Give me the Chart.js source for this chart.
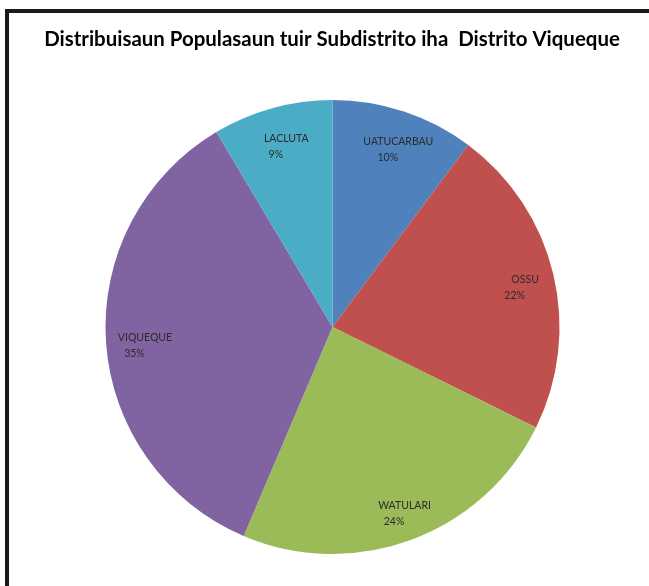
<!DOCTYPE html>
<html>
<head>
<meta charset="utf-8">
<script src="https://cdn.jsdelivr.net/npm/chart.js@4/dist/chart.umd.min.js"></script>
<style>
  html, body { margin: 0; padding: 0; background: #fff; }
  #wrap { position: relative; width: 649px; height: 586px; overflow: hidden; }
  #frame { position: absolute; left: 5px; top: 9px; width: 700px; height: 700px;
           border-left: 4px solid #1a1a1a; border-top: 4px solid #1a1a1a; box-sizing: border-box; }
  canvas { position: absolute; left: 0; top: 0; }
</style>
</head>
<body>
<div id="wrap">
  <div id="frame"></div>
  <canvas id="c" width="649" height="586"></canvas>
</div>
<script>
const titleText = 'Distribuisaun Populasaun tuir Subdistrito iha  Distrito Viqueque';
const categories = ['UATUCARBAU', 'OSSU', 'WATULARI', 'VIQUEQUE', 'LACLUTA'];
const shares = [10.2, 22.1, 24.1, 35.05, 8.55];
const colors = ['#4F81BD', '#C0504D', '#9BBB59', '#8064A2', '#4BACC6'];

const titlePlugin = {
  id: 'wideTitle',
  afterDraw(chart) {
    const ctx = chart.ctx;
    ctx.save();
    const fam = 'Lato, "Liberation Sans", sans-serif';
    ctx.font = 'bold 20px ' + fam;
    const w = ctx.measureText(titleText).width;
    const size = 20 * 576 / w;
    ctx.font = 'bold ' + size.toFixed(2) + 'px ' + fam;
    ctx.fillStyle = '#000';
    ctx.textAlign = 'center';
    ctx.textBaseline = 'alphabetic';
    ctx.fillText(titleText, 332, 45.5);
    ctx.restore();
  }
};

const labelPlugin = {
  id: 'sliceLabels',
  afterDatasetsDraw(chart) {
    const ctx = chart.ctx;
    const meta = chart.getDatasetMeta(0);
    const data = chart.data.datasets[0].data;
    const total = data.reduce((a, b) => a + b, 0);
    ctx.save();
    ctx.font = '10.5px Lato, "Liberation Sans", sans-serif';
    ctx.fillStyle = '#2b2b2b';
    ctx.textAlign = 'center';
    ctx.textBaseline = 'middle';
    meta.data.forEach((arc, i) => {
      const p = arc.getProps(['x', 'y', 'startAngle', 'endAngle', 'outerRadius'], true);
      const mid = (p.startAngle + p.endAngle) / 2;
      const rr = p.outerRadius * 0.85;
      const x = p.x + Math.cos(mid) * rr;
      const y = p.y + Math.sin(mid) * rr;
      ctx.fillText(chart.data.labels[i], x + 5, y - 2);
      ctx.fillText(Math.round(data[i] / total * 100) + '%', x - 5.5, y + 13.5);
    });
    ctx.restore();
  }
};

new Chart(document.getElementById('c'), {
  type: 'pie',
  data: {
    labels: categories,
    datasets: [{
      data: shares,
      backgroundColor: colors,
      borderWidth: 0
    }]
  },
  options: {
    responsive: false,
    animation: false,
    layout: { padding: { left: 105.5, right: 89.5, top: 100, bottom: 32 } },
    plugins: {
      legend: { display: false },
      tooltip: { enabled: false },
      title: { display: false }
    }
  },
  plugins: [labelPlugin, titlePlugin]
});
</script>
</body>
</html>
